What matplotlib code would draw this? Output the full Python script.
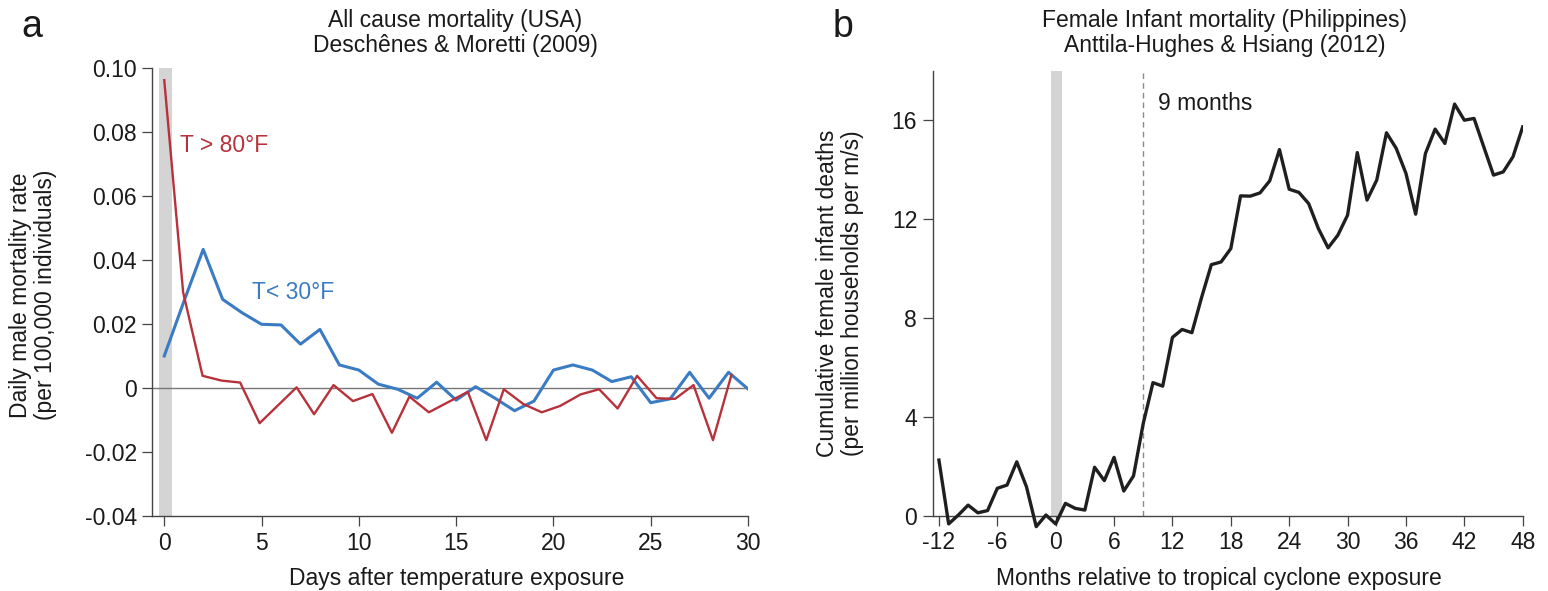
import matplotlib
matplotlib.use("Agg")
import matplotlib.pyplot as plt

plt.rcParams['font.family'] = ['Liberation Sans', 'DejaVu Sans']
plt.rcParams['font.size'] = 16.5
plt.rcParams['axes.unicode_minus'] = False

# panel a: daily mortality after hot / cold days
days = list(range(0, 31))
cold = [0.0101, 0.027, 0.0434, 0.0278, 0.0236, 0.0200, 0.0198, 0.0138, 0.0184, 0.0073,
        0.0057, 0.0013, -0.0003, -0.0031, 0.0019, -0.0037, 0.0005, -0.0031, -0.0070, -0.0040,
        0.0057, 0.0073, 0.0057, 0.0021, 0.0036, -0.0045, -0.0033, 0.0050, -0.0031, 0.0050,
        -0.0002]
hot_days = [0, 0.97, 1.97, 2.95, 3.9, 4.9, 5.85, 6.8, 7.7, 8.7,
            9.7, 10.7, 11.7, 12.6, 13.6, 14.6, 15.6, 16.55, 17.45, 18.45,
            19.4, 20.35, 21.4, 22.35, 23.3, 24.3, 25.3, 26.25, 27.2, 28.2,
            29.15]
hot = [0.0963, 0.030, 0.0039, 0.0024, 0.0018, -0.0109, -0.0053, 0.0003, -0.0081, 0.0010,
       -0.0040, -0.0018, -0.0139, -0.0026, -0.0075, -0.0043, -0.0011, -0.0162, -0.0003, -0.0049,
       -0.0075, -0.0055, -0.0019, -0.0003, -0.0063, 0.0039, -0.0031, -0.0033, 0.0010, -0.0162,
       0.0042]
a_yticks = [-0.04, -0.02, 0, 0.02, 0.04, 0.06, 0.08, 0.10]
a_ylabels = ['-0.04', '-0.02', '0', '0.02', '0.04', '0.06', '0.08', '0.10']
a_xticks = [0, 5, 10, 15, 20, 25, 30]

# panel b: cumulative female infant deaths around cyclone exposure
months = list(range(-12, 49))
deaths = [2.26, -0.32, 0.04, 0.44, 0.13, 0.22, 1.12, 1.25, 2.19, 1.18,
          -0.43, 0.04, -0.32, 0.51, 0.31, 0.24, 1.97, 1.43, 2.37, 1.01,
          1.62, 3.74, 5.39, 5.25, 7.22, 7.54, 7.41, 8.84, 10.16, 10.27,
          10.81, 12.94, 12.93, 13.06, 13.55, 14.81, 13.21, 13.08, 12.63, 11.62,
          10.84, 11.35, 12.16, 14.69, 12.77, 13.58, 15.49, 14.86, 13.85, 12.20,
          14.65, 15.64, 15.06, 16.65, 16.00, 16.07, 14.92, 13.78, 13.91, 14.52,
          15.73]
b_yticks = [0, 4, 8, 12, 16]
b_xticks = [-12, -6, 0, 6, 12, 18, 24, 30, 36, 42, 48]
b_xlabels = ['-12', '-6', '0', '6', '12', '18', '24', '30', '36', '42', '48']

red = '#b7323b'
blue = '#3a7cc3'
band = '#d4d4d4'
spine_c = '#444444'
txt = '#1a1a1a'

fig = plt.figure(figsize=(15.48, 5.91), dpi=100)
W, H = 1548.0, 591.0

def style(ax):
    for s in ['top', 'right']:
        ax.spines[s].set_visible(False)
    for s in ['left', 'bottom']:
        ax.spines[s].set_color(spine_c)
        ax.spines[s].set_linewidth(1.0)
    ax.tick_params(direction='out', length=7, width=0.9, color=spine_c,
                   labelcolor=txt, labelsize=16.5, pad=4)

# ---- panel a
ax1 = fig.add_axes([152 / W, 1 - 516.3 / H, (748 - 152) / W, (516.3 - 68.3) / H])
style(ax1)
ax1.axvspan(-0.26, 0.38, color=band, lw=0, zorder=0)
ax1.axhline(0, color='#777777', lw=1.0, zorder=1)
ax1.plot(days, cold, color=blue, lw=2.2, zorder=3)
ax1.plot(hot_days, hot, color=red, lw=1.7, zorder=3)
ax1.set_xlim(-0.63, 30)
ax1.set_ylim(-0.04, 0.10)
ax1.set_xticks(a_xticks)
ax1.set_yticks(a_yticks)
ax1.set_yticklabels(a_ylabels)
ax1.text(0.81, 0.076, 'T > 80°F', color=red, ha='left', va='center', fontsize=16.5)
ax1.text(4.5, 0.0298, 'T< 30°F', color=blue, ha='left', va='center', fontsize=16.5)

# ---- panel b
ax2 = fig.add_axes([932.5 / W, 1 - 530.85 / H, (1522.7 - 932.5) / W, (530.85 - 70.7) / H])
style(ax2)
ax2.spines['bottom'].set_position(('data', 0))
ax2.spines['left'].set_bounds(0, 18)
ax2.fill_between([-0.48, 0.62], 0, 18, color=band, lw=0, zorder=0)
ax2.plot([9, 9], [0, 18], color='#8a8a8a', lw=1.0, ls=(0, (4, 3)), zorder=1)
ax2.plot(months, deaths, color='#1f1f1f', lw=2.4, zorder=3)
ax2.set_xlim(-12.66, 48)
ax2.set_ylim(-0.6, 18)
ax2.set_xticks(b_xticks)
ax2.set_xticklabels(b_xlabels)
ax2.set_yticks(b_yticks)
ax2.text(10.5, 16.69, '9 months', color=txt, ha='left', va='center', fontsize=16.5)

# titles, axis labels and panel letters
fig.text(455 / W, 1 - 33 / H, 'All cause mortality (USA)\nDeschênes & Moretti (2009)',
         ha='center', va='center', color=txt, linespacing=1.1)
fig.text(1225 / W, 1 - 33 / H, 'Female Infant mortality (Philippines)\nAnttila-Hughes & Hsiang (2012)',
         ha='center', va='center', color=txt, linespacing=1.1)
fig.text(33 / W, 1 - 295 / H, 'Daily male mortality rate\n(per 100,000 individuals)',
         rotation=90, ha='center', va='center', color=txt, linespacing=1.1)
fig.text(840 / W, 1 - 293 / H, 'Cumulative female infant deaths\n(per million households per m/s)',
         rotation=90, ha='center', va='center', color=txt, linespacing=1.1)
fig.text(457 / W, 1 - 578 / H, 'Days after temperature exposure', ha='center', va='center', color=txt)
fig.text(1219 / W, 1 - 578 / H, 'Months relative to tropical cyclone exposure',
         ha='center', va='center', color=txt)
fig.text(21 / W, 1 - 27 / H, 'a', fontsize=27, ha='left', va='center', color=txt)
fig.text(833 / W, 1 - 27 / H, 'b', fontsize=27, ha='left', va='center', color=txt)

fig.savefig('out.png', dpi=100)
